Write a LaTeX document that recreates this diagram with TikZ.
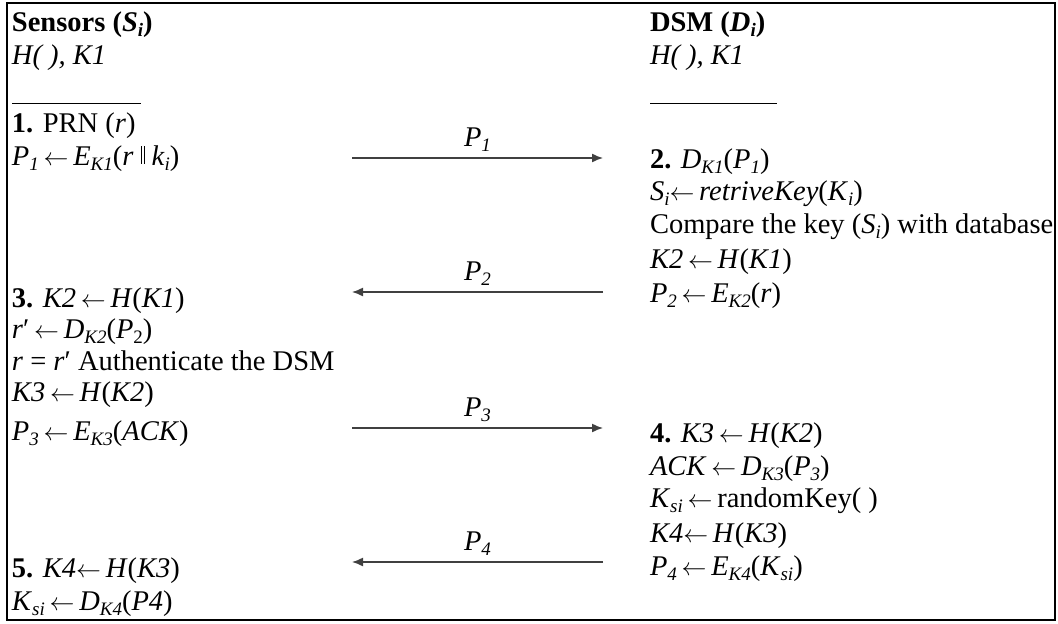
\documentclass[tikz,border=0pt]{standalone}
\usepackage{fontspec}
\setmainfont{Liberation Serif}
\usetikzlibrary{arrows.meta}
\newcommand{\sbs}[1]{\raisebox{-0.2em}[\height][0pt]{\fontsize{19}{19}\selectfont #1}}
\newcommand{\lar}{\,$\leftarrow$\,}
\newcommand{\dbar}{\raisebox{0.05em}{\rule{0.9pt}{0.6em}\hspace{2pt}\rule{0.9pt}{0.6em}}}
\begin{document}
\begin{tikzpicture}[x=1pt,y=-1pt,
  every node/.style={inner sep=0pt, outer sep=0pt, anchor=base west, font=\fontsize{28.5}{33}\selectfont},
  msg/.style={draw=black!75, line width=1.4pt, -{Latex[length=11pt,width=9pt]}},
  lbl/.style={anchor=base, yshift=12pt},
  sep/.style={line width=1pt}]
\useasboundingbox (0,0) rectangle (1058,624);
\draw[line width=2pt] (7,3) rectangle (1055,620);
% left column
\node (l1) at (12,31) {\textbf{Sensors (\textit{S}\sbs{\textit{i}})}};
\node (l2) at (12,64) {\textit{H( ), K1}};
\draw[sep] (12,103) -- (141,103);
\node (l3) at (12,132) {\textbf{1.} PRN (\textit{r})};
\node (l4) at (12,165) {\textit{P}\sbs{\textit{1}}\lar\textit{E}\sbs{\textit{K1}}(\textit{r} \dbar{} \textit{k}\sbs{\textit{i}})};
\node (l5) at (12,307) {\textbf{3.} \textit{K2}\lar\textit{H}(\textit{K1})};
\node (l6) at (12,338) {\textit{r}′\lar\textit{D}\sbs{\textit{K2}}(\textit{P}\sbs{2})};
\node (l7) at (12,370) {\textit{r} = \textit{r}′ Authenticate the DSM};
\node (l8) at (12,401) {\textit{K3}\lar\textit{H}(\textit{K2})};
\node (l9) at (12,440) {\textit{P}\sbs{\textit{3}}\lar\textit{E}\sbs{\textit{K3}}(\textit{ACK})};
\node (l10) at (12,577) {\textbf{5.} \textit{K4}$\leftarrow$\,\textit{H}(\textit{K3})};
\node (l11) at (12,610) {\textit{K}\sbs{\textit{si}}\lar\textit{D}\sbs{\textit{K4}}(\textit{P4})};
% right column
\node (r1) at (650,31) {\textbf{DSM (\textit{D}\sbs{\textit{i}})}};
\node (r2) at (650,64) {\textit{H( ), K1}};
\draw[sep] (650,103) -- (777,103);
\node (r3) at (650,168) {\textbf{2.} \textit{D}\sbs{\textit{K1}}(\textit{P}\sbs{\textit{1}})};
\node (r4) at (650,200) {\textit{S}\sbs{\textit{i}}$\leftarrow$\,\textit{retriveKey}(\textit{K}\sbs{\textit{i}})};
\node (r5) at (650,233) {Compare the key (\textit{S}\sbs{\textit{i}}) with database};
\node (r6) at (650,268) {\textit{K2}\lar\textit{H}(\textit{K1})};
\node (r7) at (650,302) {\textit{P}\sbs{\textit{2}}\lar\textit{E}\sbs{\textit{K2}}(\textit{r})};
\node (r8) at (650,442) {\textbf{4.} \textit{K3}\lar\textit{H}(\textit{K2})};
\node (r9) at (650,475) {\textit{ACK}\lar\textit{D}\sbs{\textit{K3}}(\textit{P}\sbs{\textit{3}})};
\node (r10) at (650,507) {\textit{K}\sbs{\textit{si}}\lar randomKey( )};
\node (r11) at (650,542) {\textit{K4}$\leftarrow$\,\textit{H}(\textit{K3})};
\node (r12) at (650,575) {\textit{P}\sbs{\textit{4}}\lar\textit{E}\sbs{\textit{K4}}(\textit{K}\sbs{\textit{si}})};
% messages
\coordinate (s1) at (352,158); \coordinate (d1) at (603,158);
\coordinate (s2) at (352,292); \coordinate (d2) at (603,292);
\coordinate (s3) at (352,428); \coordinate (d3) at (603,428);
\coordinate (s4) at (352,562); \coordinate (d4) at (603,562);
\draw[msg] (s1) -- node[lbl] (p1) {\textit{P}\sbs{\textit{1}}} (d1);
\draw[msg] (d2) -- node[lbl] (p2) {\textit{P}\sbs{\textit{2}}} (s2);
\draw[msg] (s3) -- node[lbl] (p3) {\textit{P}\sbs{\textit{3}}} (d3);
\draw[msg] (d4) -- node[lbl] (p4) {\textit{P}\sbs{\textit{4}}} (s4);
\end{tikzpicture}
\end{document}
